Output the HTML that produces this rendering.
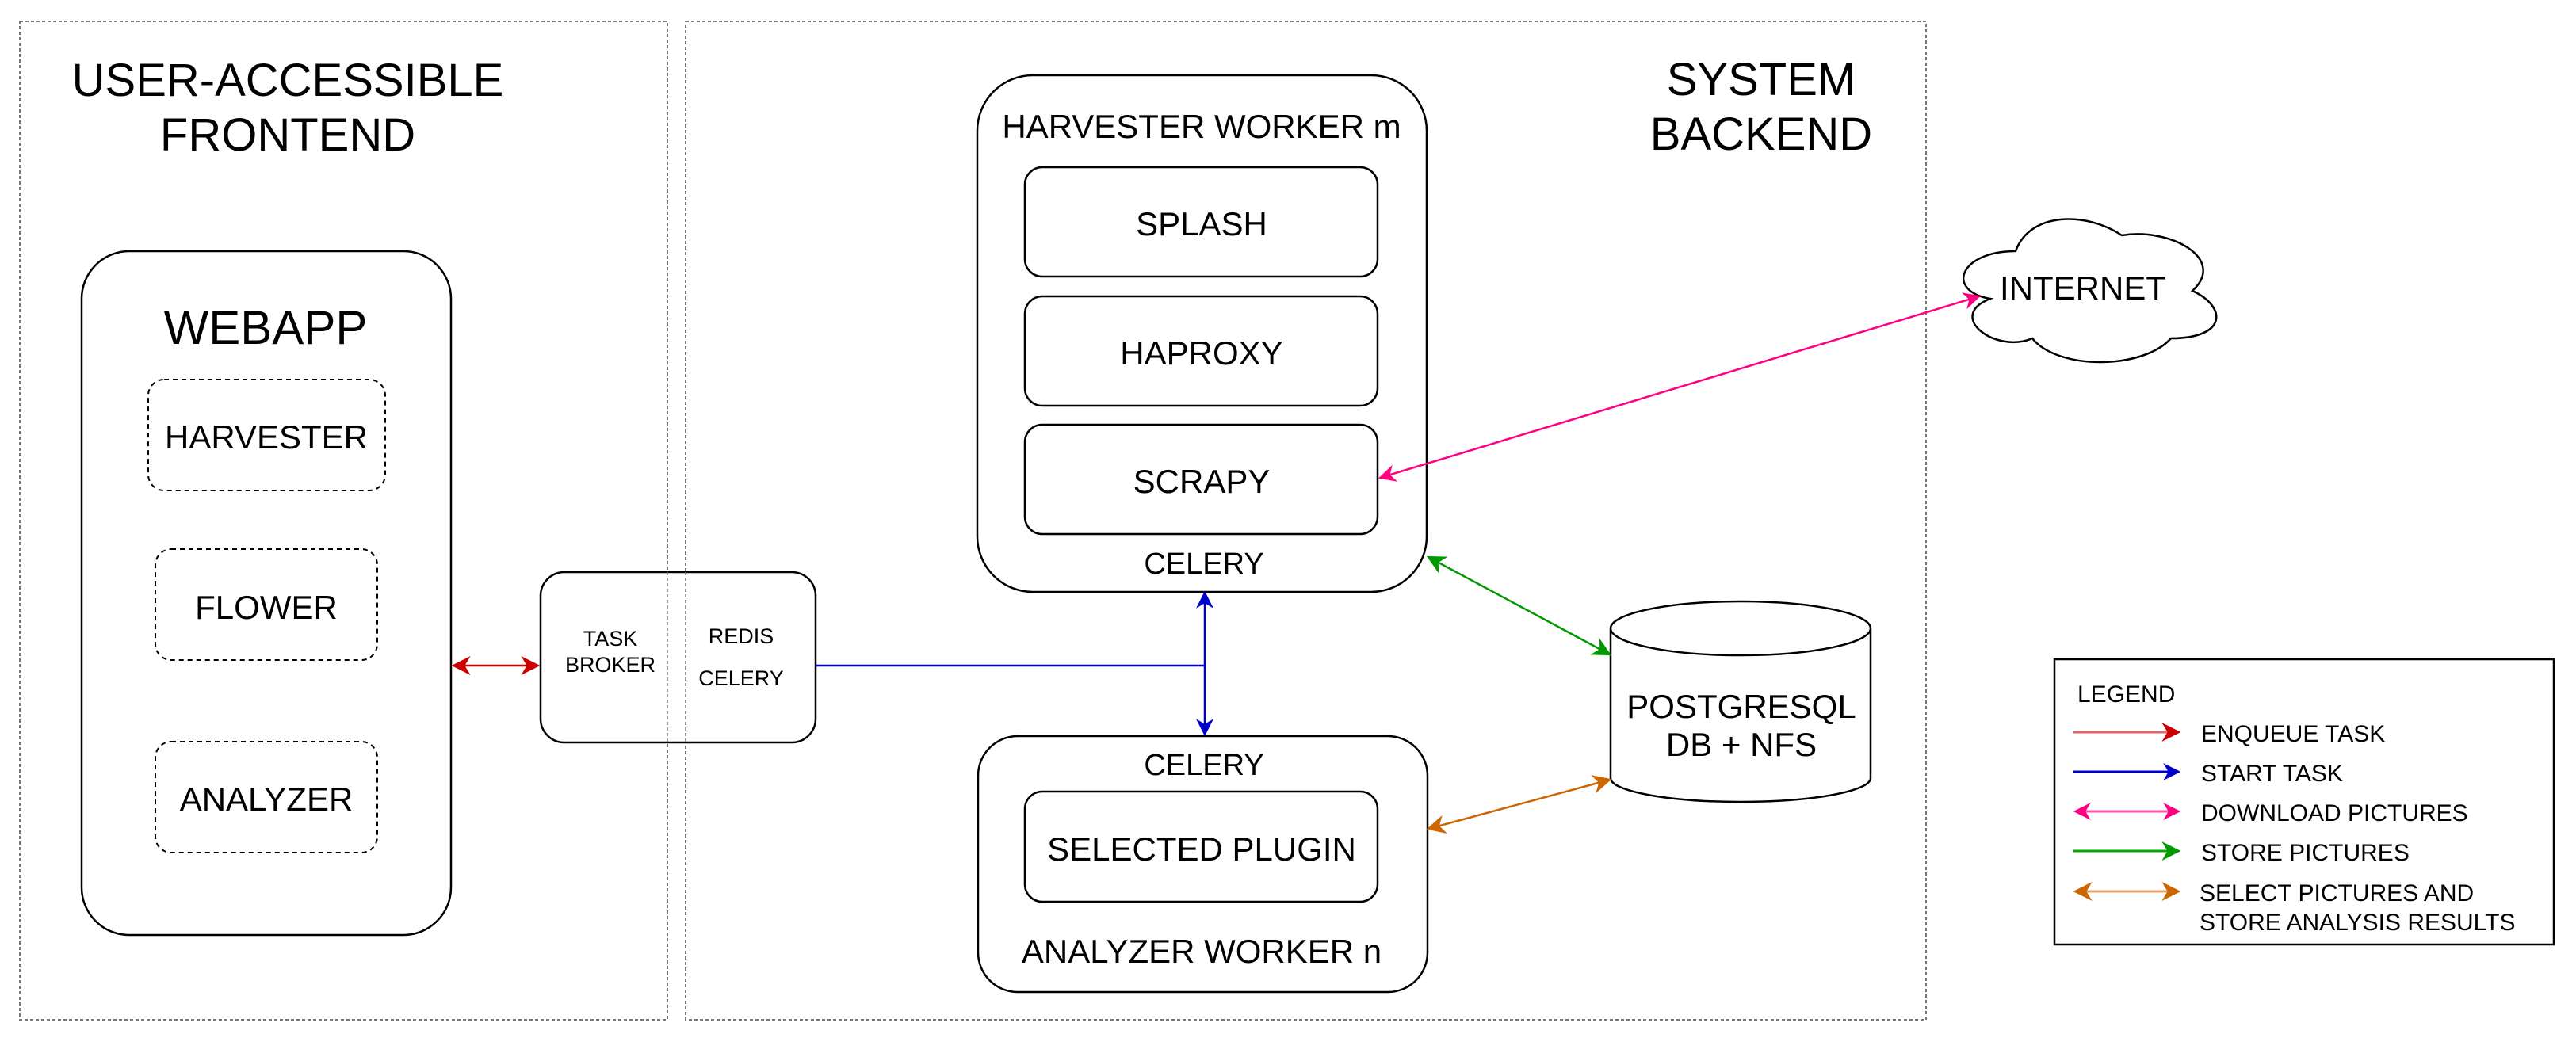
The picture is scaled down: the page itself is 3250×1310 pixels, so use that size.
<!DOCTYPE html>
<html><head><meta charset="utf-8"><style>html,body{margin:0;padding:0;background:#fff}svg{display:block}text{font-family:"Liberation Sans",Arial,sans-serif;fill:#000}</style></head>
<body>
<svg width="3250" height="1310" viewBox="0 0 3250 1310" xmlns="http://www.w3.org/2000/svg">
<defs>
<marker id="mr" viewBox="0 0 10 10" refX="9" refY="5" markerWidth="9" markerHeight="9" markerUnits="userSpaceOnUse" orient="auto-start-reverse"><path d="M0,0 L10,5 L0,10 L3,5 Z" fill="#cc0000"/></marker>
<marker id="mb" viewBox="0 0 10 10" refX="9" refY="5" markerWidth="22" markerHeight="22" markerUnits="userSpaceOnUse" orient="auto-start-reverse"><path d="M0,0 L10,5 L0,10 L3,5 Z" fill="#0000cc"/></marker>
<marker id="mp" viewBox="0 0 10 10" refX="9" refY="5" markerWidth="22" markerHeight="22" markerUnits="userSpaceOnUse" orient="auto-start-reverse"><path d="M0,0 L10,5 L0,10 L3,5 Z" fill="#ff0080"/></marker>
<marker id="mg" viewBox="0 0 10 10" refX="9" refY="5" markerWidth="24" markerHeight="24" markerUnits="userSpaceOnUse" orient="auto-start-reverse"><path d="M0,0 L10,5 L0,10 L3,5 Z" fill="#009900"/></marker>
<marker id="mo" viewBox="0 0 10 10" refX="9" refY="5" markerWidth="24" markerHeight="24" markerUnits="userSpaceOnUse" orient="auto-start-reverse"><path d="M0,0 L10,5 L0,10 L3,5 Z" fill="#cc6600"/></marker>
<marker id="mr2" viewBox="0 0 10 10" refX="9" refY="5" markerWidth="24" markerHeight="24" markerUnits="userSpaceOnUse" orient="auto-start-reverse"><path d="M0,0 L10,5 L0,10 L3,5 Z" fill="#cc0000"/></marker>
</defs>
<g fill="none" stroke="#777" stroke-width="2" stroke-dasharray="4,3">
<rect x="25" y="27" width="817" height="1260"/>
<rect x="865" y="27" width="1565" height="1260"/>
</g>
<text x="363" y="121" font-size="58" text-anchor="middle">USER-ACCESSIBLE</text>
<text x="363" y="190" font-size="58" text-anchor="middle">FRONTEND</text>
<text x="2222" y="120" font-size="58" text-anchor="middle">SYSTEM</text>
<text x="2222" y="189" font-size="58" text-anchor="middle">BACKEND</text>
<g fill="#fff" stroke="#000" stroke-width="2.5">
<rect x="103" y="317" width="466" height="863" rx="60"/>
<rect x="1233" y="95" width="567" height="652" rx="70"/>
<rect x="1234" y="929" width="567" height="323" rx="50"/>
<rect x="1293" y="211" width="445" height="138" rx="22"/>
<rect x="1293" y="374" width="445" height="138" rx="22"/>
<rect x="1293" y="536" width="445" height="138" rx="22"/>
<rect x="1293" y="999" width="445" height="139" rx="22"/>
<rect x="682" y="722" width="347" height="215" rx="30"/>
<rect x="2592" y="832" width="630" height="360" rx="0"/>
</g>
<g fill="none" stroke="#777" stroke-width="1.5" stroke-dasharray="4,3"><line x1="842" y1="722" x2="842" y2="937"/><line x1="865" y1="722" x2="865" y2="937"/></g>
<g fill="#fff" stroke="#000" stroke-width="2" stroke-dasharray="6,5">
<rect x="187" y="479" width="299" height="140" rx="20"/>
<rect x="196" y="693" width="280" height="140" rx="20"/>
<rect x="196" y="936" width="280" height="140" rx="20"/>
</g>
<path d="M2032,793 L2032,982 A164,30 0 0 0 2360,982 L2360,793 A164,34 0 0 0 2032,793 A164,34 0 0 0 2360,793" fill="#fff" stroke="#000" stroke-width="2.5"/>
<path d="M2543,317 C2472,317 2454,367 2511,377 C2454,399 2518,447 2564,427 C2596,467 2703,467 2739,427 C2810,427 2810,387 2766,367 C2810,327 2739,287 2677,297 C2632,267 2561,267 2543,317 Z" fill="#fff" stroke="#000" stroke-width="2.5"/>
<text x="335" y="434" font-size="60" text-anchor="middle">WEBAPP</text>
<g font-size="42" text-anchor="middle">
<text x="336" y="566">HARVESTER</text>
<text x="336" y="781">FLOWER</text>
<text x="336" y="1023">ANALYZER</text>
<text x="1516" y="174">HARVESTER WORKER m</text>
<text x="1516" y="297">SPLASH</text>
<text x="1516" y="460">HAPROXY</text>
<text x="1516" y="622">SCRAPY</text>
<text x="1516" y="1086">SELECTED PLUGIN</text>
<text x="1516" y="1215">ANALYZER WORKER n</text>
<text x="2197" y="906">POSTGRESQL</text>
<text x="2197" y="954">DB + NFS</text>
<text x="2628" y="378">INTERNET</text>
</g>
<g font-size="38" text-anchor="middle"><text x="1519" y="724">CELERY</text><text x="1519" y="978">CELERY</text></g>
<g font-size="27" text-anchor="middle">
<text x="770" y="815">TASK</text><text x="770" y="848">BROKER</text>
<text x="935" y="812">REDIS</text><text x="935" y="865">CELERY</text>
</g>
<line x1="572" y1="840" x2="679" y2="840" stroke="#cc0000" stroke-width="2.5" marker-start="url(#mr2)" marker-end="url(#mr2)"/>
<polyline points="1029,840 1520,840" fill="none" stroke="#0000cc" stroke-width="2.5"/>
<line x1="1520" y1="748" x2="1520" y2="927" stroke="#0000cc" stroke-width="2.5" marker-start="url(#mb)" marker-end="url(#mb)"/>
<line x1="2497" y1="374" x2="1741" y2="603" stroke="#ff0080" stroke-width="2.5" marker-start="url(#mp)" marker-end="url(#mp)"/>
<line x1="1802" y1="703" x2="2031" y2="826" stroke="#009900" stroke-width="2.5" marker-start="url(#mg)" marker-end="url(#mg)"/>
<line x1="1802" y1="1046" x2="2031" y2="984" stroke="#cc6600" stroke-width="2.5" marker-start="url(#mo)" marker-end="url(#mo)"/>
<text x="2621" y="886" font-size="30">LEGEND</text>
<line x1="2616" y1="924" x2="2749" y2="924" stroke="#e06666" stroke-width="3" marker-end="url(#mr2)"/>
<line x1="2616" y1="974" x2="2749" y2="974" stroke="#0000cc" stroke-width="3" marker-end="url(#mb)"/>
<line x1="2618" y1="1024" x2="2749" y2="1024" stroke="#ff55aa" stroke-width="3" marker-start="url(#mp)" marker-end="url(#mp)"/>
<line x1="2616" y1="1074" x2="2749" y2="1074" stroke="#00aa00" stroke-width="3" marker-end="url(#mg)"/>
<line x1="2618" y1="1125" x2="2749" y2="1125" stroke="#e8a070" stroke-width="3" marker-start="url(#mo)" marker-end="url(#mo)"/>
<g font-size="30">
<text x="2777" y="936">ENQUEUE TASK</text>
<text x="2777" y="986">START TASK</text>
<text x="2777" y="1036">DOWNLOAD PICTURES</text>
<text x="2777" y="1086">STORE PICTURES</text>
<text x="2775" y="1137">SELECT PICTURES AND</text>
<text x="2775" y="1174">STORE ANALYSIS RESULTS</text>
</g>
</svg>
</body></html>
